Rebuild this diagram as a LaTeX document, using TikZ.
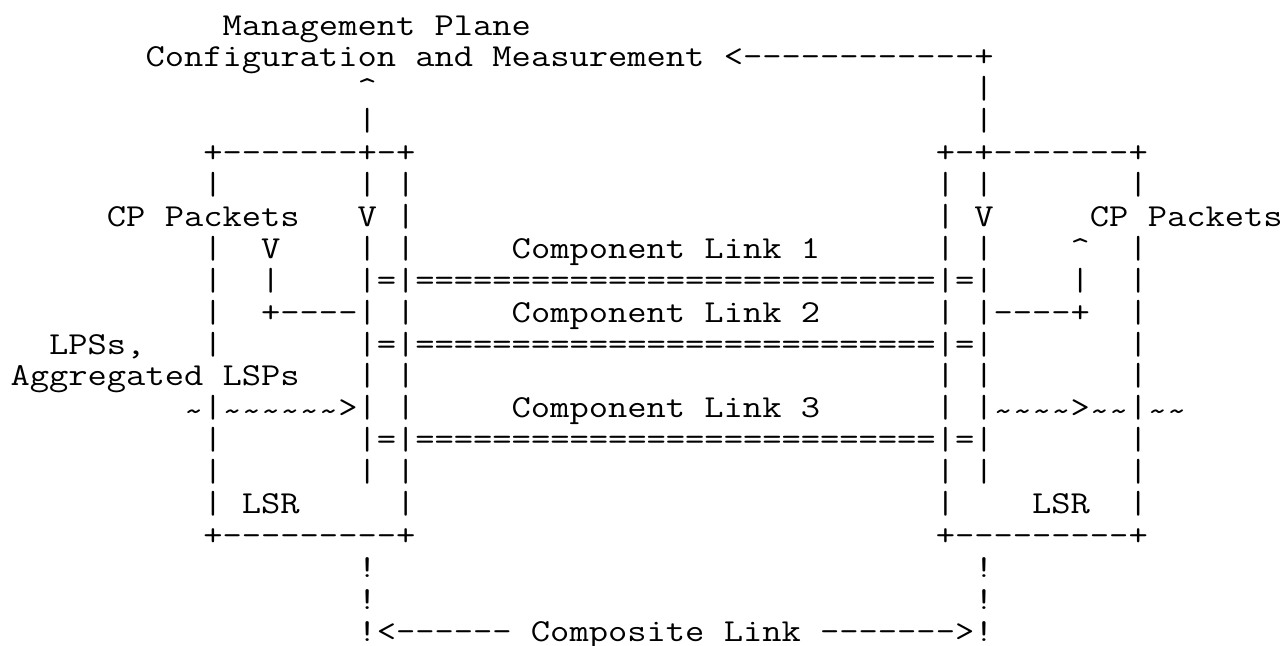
\documentclass[tikz,border=0pt]{standalone}
\usepackage{fontspec}

% mono font of the rows and the width of one of its character cells
\newcommand\asciifont{\ttfamily\fontsize{16pt}{16pt}\selectfont}
\newlength\cw
\AtBeginDocument{\sbox0{\asciifont M}\setlength\cw{\wd0}}
\newcommand\gap[1]{\hspace*{#1\cw}}
\newcommand\tld{\raisebox{-0.12em}{\textasciitilde}}
\newcommand\crt{\textasciicircum}

\tikzset{
    asciirow/.style={anchor=base west, inner sep=0pt, outer sep=0pt,
        xscale=9.6376pt/\cw, transform shape, font=\asciifont}
}

\begin{document}
\begin{tikzpicture}[x=9.6376pt, y=-15.95pt]

    \useasboundingbox (-0.55,-1.1) rectangle (65.86,19.15);

    % Management plane
    \node[asciirow] (r0) at (0,0) {\gap{11}Management Plane};
    \node[asciirow] (r1) at (0,1) {\gap{7}Configuration and Measurement <------------+};
    \node[asciirow] (r2) at (0,2) {\gap{18}\crt\gap{31}|};
    \node[asciirow] (r3) at (0,3) {\gap{18}|\gap{31}|};

    % LSRs and component links
    \node[asciirow] (r4) at (0,4) {\gap{10}+-------+-+\gap{27}+-+-------+};
    \node[asciirow] (r5) at (0,5) {\gap{10}|\gap{7}| |\gap{27}| |\gap{7}|};
    \node[asciirow] (r6) at (0,6) {\gap{5}CP Packets\gap{3}V |\gap{27}| V\gap{5}CP Packets};
    \node[asciirow] (r7) at (0,7) {\gap{10}|\gap{2}V\gap{4}| |\gap{5}Component Link 1\gap{6}| |\gap{4}\crt\gap{2}|};
    \node[asciirow] (r8) at (0,8) {\gap{10}|\gap{2}|\gap{4}|=|===========================|=|\gap{4}|\gap{2}|};
    \node[asciirow] (r9) at (0,9) {\gap{10}|\gap{2}+----| |\gap{5}Component Link 2\gap{6}| |----+\gap{2}|};
    \node[asciirow] (r10) at (0,10) {\gap{2}LPSs,\gap{3}|\gap{7}|=|===========================|=|\gap{7}|};
    \node[asciirow] (r11) at (0,11) {Aggregated LSPs\gap{3}| |\gap{27}| |\gap{7}|};
    \node[asciirow] (r12) at (0,12) {\gap{9}\tld|\tld\tld\tld\tld\tld\tld>| |\gap{5}Component Link 3\gap{6}| |\tld\tld\tld\tld>\tld\tld|\tld\tld};
    \node[asciirow] (r13) at (0,13) {\gap{10}|\gap{7}|=|===========================|=|\gap{7}|};
    \node[asciirow] (r14) at (0,14) {\gap{10}|\gap{7}| |\gap{27}| |\gap{7}|};
    \node[asciirow] (r15) at (0,15) {\gap{10}| LSR\gap{5}|\gap{27}|\gap{4}LSR\gap{2}|};
    \node[asciirow] (r16) at (0,16) {\gap{10}+---------+\gap{27}+---------+};

    % Composite link
    \node[asciirow] (r17) at (0,17) {\gap{18}!\gap{31}!};
    \node[asciirow] (r18) at (0,18) {\gap{18}!\gap{31}!};
    \node[asciirow] (r19) at (0,19) {\gap{18}!<------ Composite Link ------->!};

\end{tikzpicture}
\end{document}
